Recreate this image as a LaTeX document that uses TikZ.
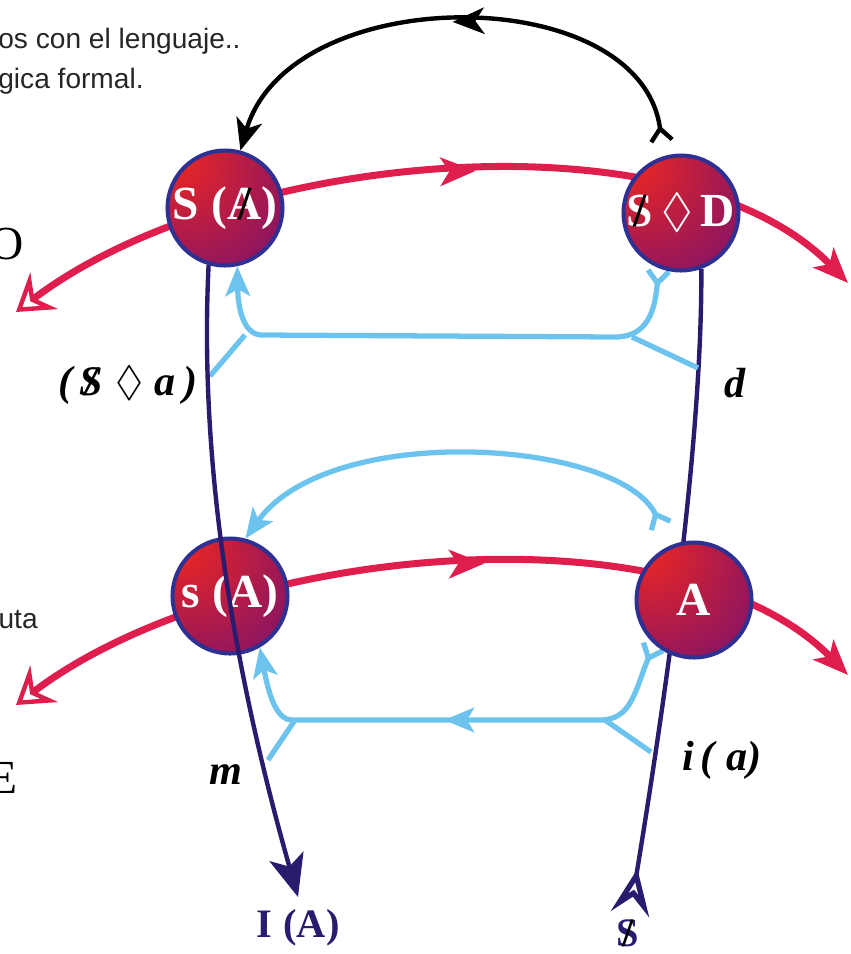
\documentclass[tikz,border=0pt]{standalone}
\usepackage{amssymb}
\usepackage{fontspec}
\setmainfont{Liberation Serif}
\newfontfamily\handfont{Liberation Sans}
\usetikzlibrary{arrows.meta,decorations.markings,backgrounds}
\definecolor{crimson}{HTML}{E01E4E}
\definecolor{indigo}{HTML}{2A1B6E}
\definecolor{ringblue}{HTML}{2E3192}
\definecolor{sky}{HTML}{6CC4EE}
\definecolor{orbred}{HTML}{E0242A}
\definecolor{orbviolet}{HTML}{46088E}
\pgfdeclareradialshading{orbshade}{\pgfpoint{-22bp}{22bp}}{%
  color(0bp)=(orbred); color(6bp)=(orbred); color(75bp)=(orbviolet); color(100bp)=(orbviolet)}
\newcommand\barred[1]{\ooalign{#1\cr\hidewidth\textcolor{black}{/}\hidewidth\cr}}
\tikzset{
  redhead/.tip={Stealth[length=20pt,width=16pt,inset=5pt]},
  redtail/.tip={Stealth[open,length=20pt,width=26pt,inset=7pt,line width=2.5pt]},
  navyhead/.tip={Stealth[length=24pt,width=20pt,inset=6pt]},
  navytail/.tip={Stealth[open,reversed,length=26pt,width=22pt,inset=10pt,line width=3pt]},
  skyhead/.tip={Stealth[length=17pt,width=14pt,inset=4pt]},
  blackhead/.tip={Stealth[length=18pt,width=15pt,inset=5pt]},
  forktip/.tip={Straight Barb[reversed,length=7pt,width=12pt]},
  orb/.style={circle,minimum size=2.3cm,inner sep=0pt,draw=ringblue,line width=2.3pt,
    shade,shading=orbshade,text=white,font=\bfseries\fontsize{27}{27}\selectfont},
  redarc/.style={draw=crimson,line width=4pt},
  navyline/.style={draw=indigo,line width=2.5pt},
  skyline/.style={draw=sky,line width=3pt},
  blackarc/.style={draw=black,line width=2.5pt},
  midtip/.style 2 args={postaction={decorate,decoration={markings,
    mark=at position #1 with {\arrow{#2}}}}},
  lbl/.style={font=\bfseries\itshape\fontsize{24}{26}\selectfont},
  hand/.style={font=\handfont\fontsize{16}{18}\selectfont,text=black!85},
  bigletter/.style={font=\fontsize{27}{27}\selectfont},
  navylbl/.style={font=\bfseries\fontsize{23}{23}\selectfont,text=indigo,inner sep=1pt}
}
\begin{document}
\begin{tikzpicture}[x=0.02cm,y=-0.02cm]
\useasboundingbox (0,0) rectangle (851,954);

% texto cortado a la izquierda
\node[hand,anchor=base west,inner sep=0pt] (lang) at (-2,48) {os con el lenguaje..};
\node[hand,anchor=base west,inner sep=0pt] (logic) at (-2,88) {gica formal.};
\node[hand,anchor=base east,inner sep=0pt] (uta) at (38,628) {uta};
\node[bigletter,anchor=east,inner sep=0pt] (bigO) at (24,244) {O};
\node[bigletter,anchor=east,inner sep=0pt] (bigE) at (18,778) {E};

% los cuatro nudos
\node[orb] (SA) at (225,208) {S\;(\barred{A})};
\node[orb] (SD) at (681,213) {\raisebox{-.35em}{\barred{S}\,$\lozenge$\,D}};
\node[orb] (sA) at (230,596) {s\;(A)};
\node[orb] (A) at (694,600) {\raisebox{-.3em}{A}};

% etiquetas
\node[lbl] (Sa) at (128,385) {(\,\barred{S}\;$\lozenge$\;a\,)};
\node[lbl] (d) at (735,383) {d};
\node[lbl] (m) at (226,775) {m};
\node[lbl] (ia) at (722,760) {i\,(\;a)};
\node[navylbl] (IA) at (298,928) {I\;(A)};
\node[navylbl] (barS) at (628,933) {\barred{S}};

\coordinate (redtailup) at (16,312);
\coordinate (redendup) at (848,283);
\coordinate (redtaillow) at (16,705);
\coordinate (redendlow) at (848,675);
\coordinate (Itip) at (298,897);
\coordinate (Sfoot) at (630,914);
\coordinate (blackfork) at (662,143);
\coordinate (midfork) at (662,528);
\coordinate (jUR) at (632,337);
\coordinate (jUL) at (245,335);
\coordinate (jLR) at (605,720);
\coordinate (jLL) at (295,720);
\coordinate (dpt) at (698,368);
\coordinate (sapt) at (210,376);
\coordinate (ipt) at (651,752);
\coordinate (mpt) at (268,760);

\begin{scope}[on background layer]
\draw[redarc,redtail-redhead,midtip={0.55}{Stealth[length=20pt,width=16pt,inset=5pt]}]
  (redtailup) .. controls (230,150) and (680,110) .. (redendup);
\draw[redarc,redtail-redhead,midtip={0.56}{Stealth[length=20pt,width=16pt,inset=5pt]}]
  (redtaillow) .. controls (230,543) and (680,503) .. (redendlow);
\draw[navyline,navytail-] (Sfoot) .. controls (675,640) and (702,420) .. (SD.290);
% vectores celestes
\draw[skyline,forktip-skyhead]
  (SD.248) .. controls (655,310) and (648,337) .. (615,337) -- (262,335)
  .. controls (245,335) and (238,312) .. (SA.282);
\draw[skyline] (jUR) -- (dpt);
\draw[skyline] (jUL) -- (sapt);
\draw[skyline,forktip-skyhead] (midfork) .. controls (620,440) and (330,420) .. (sA.75);
\draw[skyline,forktip-skyhead,midtip={0.52}{Stealth[length=17pt,width=14pt,inset=4pt]}]
  (A.228) .. controls (635,690) and (632,720) .. (600,720) -- (292,720)
  .. controls (275,720) and (268,690) .. (sA.300);
\draw[skyline] (jLR) -- (ipt);
\draw[skyline] (jLL) -- (mpt);
\end{scope}

\draw[navyline,-navyhead] (SA.254) .. controls (200,440) and (225,640) .. (Itip);
\draw[blackarc,forktip-blackhead,midtip={0.5}{Stealth[length=18pt,width=15pt,inset=5pt]}]
  (blackfork) .. controls (640,-20) and (290,-20) .. (SA.75);
\end{tikzpicture}
\end{document}
